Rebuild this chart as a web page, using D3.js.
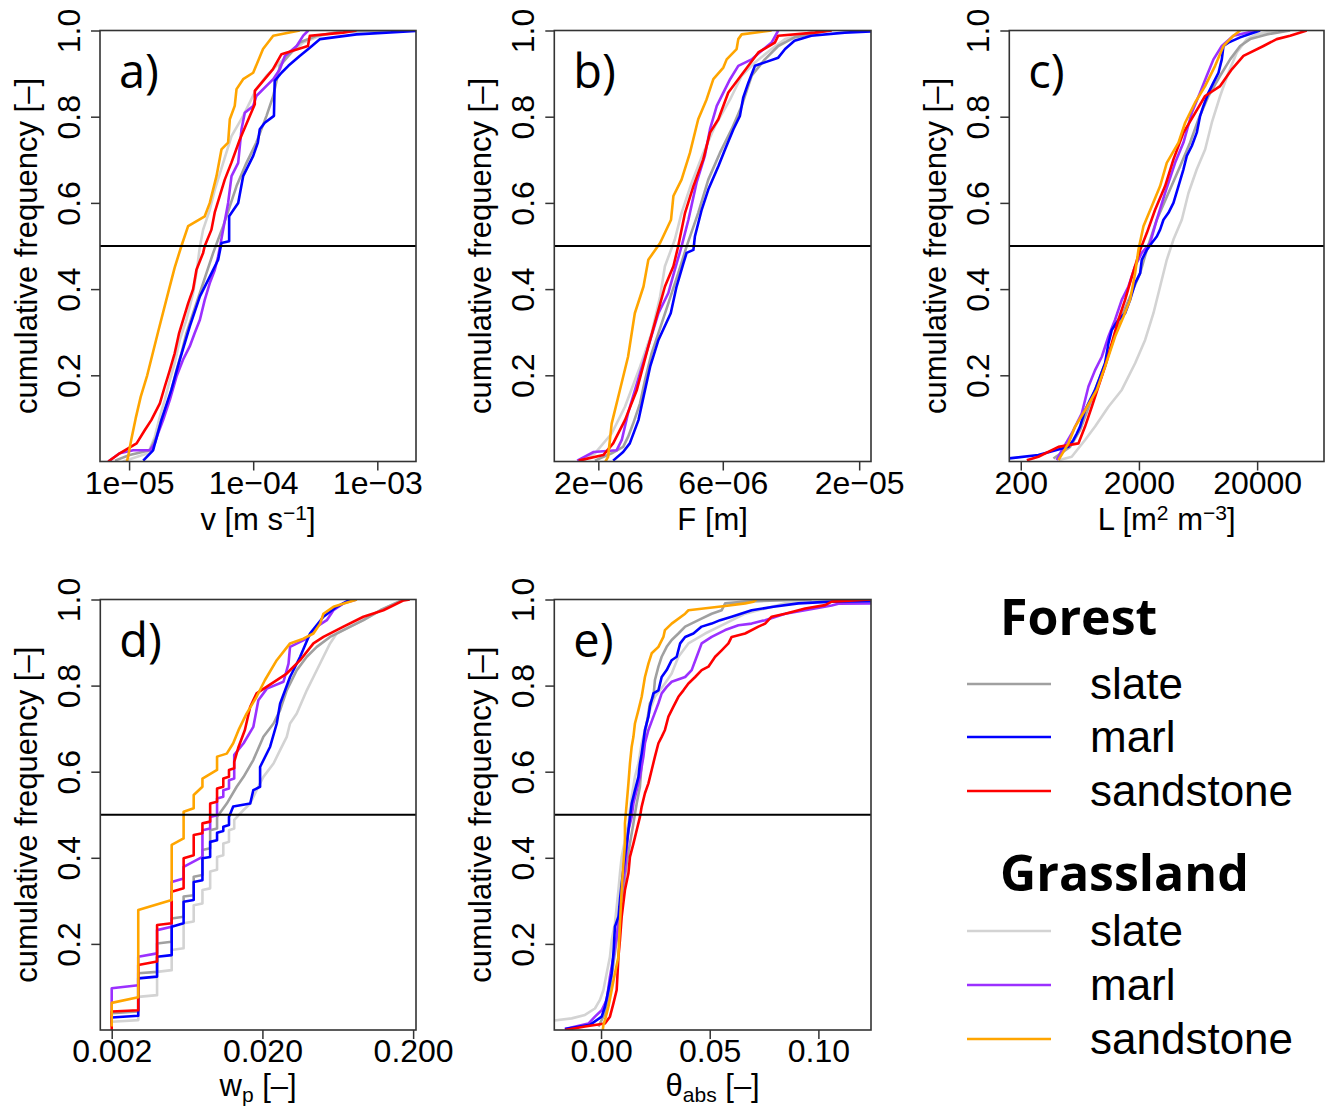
<!DOCTYPE html>
<html>
<head>
<meta charset="utf-8">
<script src="https://cdn.jsdelivr.net/npm/d3@7"></script>
<style>
  body { margin: 0; background: #fff; }
  svg { display: block; }
</style>
</head>
<body>
<svg id="chart" width="1326" height="1107"></svg>
<script>
// ---- legend / series names ----
const landUse = ["Forest", "Grassland"];
const geology = ["slate", "marl", "sandstone"];
const seriesKeys = ["FS", "FM", "FSa", "GS", "GM", "GSa"];
const seriesColors = { FS: "#a0a0a0", FM: "#0000ff", FSa: "#ff0000", GS: "#d3d3d3", GM: "#9b30ff", GSa: "#ffa500" };
const drawOrder = ["GS", "FS", "GM", "FM", "FSa", "GSa"];

// ---- y axis ----
const yTicks = [0.2, 0.4, 0.6, 0.8, 1.0];
const yTickLabels = ["0.2", "0.4", "0.6", "0.8", "1.0"];

// ---- a) velocity v [m s-1]; pairs of [value, cumulative frequency] ----
const vTicks = [1e-5, 1e-4, 1e-3];
const vTickLabels = ["1e\u221205", "1e\u221204", "1e\u221203"];
const vForestSlate = [[7.7e-6,0.002],[1.01e-5,0.015],[1.47e-5,0.026],[1.66e-5,0.057],[1.82e-5,0.095],[2.13e-5,0.15],[2.41e-5,0.212],[2.64e-5,0.251],[2.90e-5,0.298],[3.28e-5,0.344],[3.72e-5,0.391],[4.20e-5,0.437],[4.76e-5,0.484],[5.22e-5,0.515],[5.73e-5,0.546],[6.48e-5,0.592],[7.34e-5,0.639],[8.83e-5,0.693],[1.06e-4,0.74],[1.28e-4,0.802],[1.45e-4,0.848],[1.64e-4,0.918],[2.37e-4,0.972],[3.24e-4,0.988],[5.0e-4,0.997],[1.26e-3,1]];
const vForestMarl = [[1.30e-5,0.002],[1.56e-5,0.026],[1.82e-5,0.096],[2.19e-5,0.166],[2.56e-5,0.236],[3.08e-5,0.313],[3.72e-5,0.383],[4.47e-5,0.429],[5.22e-5,0.468],[5.55e-5,0.507],[6.4e-5,0.511],[6.4e-5,0.569],[7.57e-5,0.6],[8.30e-5,0.662],[1.0e-4,0.709],[1.09e-4,0.74],[1.13e-4,0.771],[1.24e-4,0.786],[1.47e-4,0.802],[1.49e-4,0.883],[1.69e-4,0.902],[1.92e-4,0.918],[2.37e-4,0.941],[2.86e-4,0.96],[3.46e-4,0.98],[6.8e-4,0.991],[2.05e-3,0.999]];
const vForestSand = [[6.8e-6,0],[8.4e-6,0.019],[1.15e-5,0.042],[1.34e-5,0.073],[1.51e-5,0.096],[1.77e-5,0.135],[1.94e-5,0.174],[2.13e-5,0.212],[2.33e-5,0.251],[2.53e-5,0.298],[2.99e-5,0.367],[3.28e-5,0.4],[3.49e-5,0.445],[3.95e-5,0.484],[4.07e-5,0.5],[4.61e-5,0.538],[4.9e-5,0.578],[5.9e-5,0.654],[6.69e-5,0.694],[7.8e-5,0.747],[1.03e-4,0.829],[1.03e-4,0.86],[1.44e-4,0.91],[1.69e-4,0.945],[2.76e-4,0.964],[2.86e-4,0.988],[5.3e-4,0.995],[6.8e-4,1]];
const vGrassSlate = [[8.9e-6,0],[1.42e-5,0.019],[1.61e-5,0.057],[1.77e-5,0.104],[1.94e-5,0.143],[2.13e-5,0.189],[2.33e-5,0.228],[2.56e-5,0.282],[2.90e-5,0.329],[3.28e-5,0.391],[3.49e-5,0.437],[3.72e-5,0.499],[3.95e-5,0.538],[4.47e-5,0.584],[4.91e-5,0.631],[5.73e-5,0.693],[6.69e-5,0.755],[8.30e-5,0.802],[1.06e-4,0.864],[1.28e-4,0.895],[1.64e-4,0.926],[2.53e-4,0.972],[3.46e-4,0.988],[5.0e-4,0.997],[7.7e-4,1]];
const vGrassMarl = [[6.8e-6,0],[8.4e-6,0.019],[1.08e-5,0.026],[1.47e-5,0.026],[1.61e-5,0.042],[1.71e-5,0.065],[1.88e-5,0.096],[2.13e-5,0.143],[2.41e-5,0.197],[2.72e-5,0.236],[3.08e-5,0.267],[3.38e-5,0.298],[3.72e-5,0.329],[4.07e-5,0.375],[4.47e-5,0.414],[4.91e-5,0.445],[5.22e-5,0.476],[5.73e-5,0.538],[6.28e-5,0.6],[6.69e-5,0.662],[7.57e-5,0.693],[8.05e-5,0.771],[8.56e-5,0.809],[1.0e-4,0.825],[1.06e-4,0.848],[1.45e-4,0.887],[1.64e-4,0.91],[1.80e-4,0.941],[2.24e-4,0.964],[2.53e-4,0.988],[2.78e-4,1]];
const vGrassSand = [[9.6e-6,0],[9.8e-6,0.01],[1.04e-5,0.05],[1.13e-5,0.1],[1.24e-5,0.15],[1.4e-5,0.2],[1.71e-5,0.3],[2.1e-5,0.4],[2.33e-5,0.45],[2.64e-5,0.5],[2.99e-5,0.546],[4.07e-5,0.569],[4.47e-5,0.6],[5.06e-5,0.662],[5.55e-5,0.724],[6.28e-5,0.74],[6.48e-5,0.794],[7.1e-5,0.825],[7.34e-5,0.864],[8.3e-5,0.887],[1.0e-4,0.902],[1.2e-4,0.957],[1.45e-4,0.988],[2.37e-4,1]];

// ---- b) F [m] ----
const fTicks = [2e-6, 6e-6, 2e-5];
const fTickLabels = ["2e\u221206", "6e\u221206", "2e\u221205"];
const fForestSlate = [[1.94e-6,0.002],[2.25e-6,0.019],[2.49e-6,0.034],[2.6e-6,0.057],[2.72e-6,0.088],[2.89e-6,0.135],[3.02e-6,0.189],[3.2e-6,0.251],[3.4e-6,0.298],[3.71e-6,0.367],[4.05e-6,0.437],[4.36e-6,0.499],[4.83e-6,0.577],[5.28e-6,0.654],[5.85e-6,0.716],[6.49e-6,0.771],[7.09e-6,0.825],[7.74e-6,0.895],[8.7e-6,0.933],[9.79e-6,0.964],[1.13e-5,0.984],[1.52e-5,1]];
const fForestMarl = [[2.28e-6,0.002],[2.49e-6,0.022],[2.64e-6,0.042],[2.85e-6,0.096],[2.98e-6,0.15],[3.16e-6,0.22],[3.4e-6,0.282],[3.79e-6,0.344],[3.99e-6,0.406],[4.24e-6,0.46],[4.36e-6,0.484],[4.63e-6,0.491],[4.69e-6,0.522],[4.98e-6,0.584],[5.28e-6,0.631],[5.77e-6,0.685],[6.12e-6,0.724],[6.59e-6,0.771],[6.98e-6,0.802],[7.19e-6,0.845],[7.52e-6,0.879],[7.97e-6,0.918],[8.7e-6,0.926],[9.79e-6,0.937],[1.04e-5,0.957],[1.13e-5,0.976],[1.31e-5,0.988],[1.76e-5,0.995],[2.22e-5,0.998]];
const fForestSand = [[1.68e-6,0.002],[2.09e-6,0.015],[2.28e-6,0.042],[2.53e-6,0.096],[2.81e-6,0.166],[3.11e-6,0.267],[3.4e-6,0.352],[3.6e-6,0.406],[3.88e-6,0.453],[4.05e-6,0.5],[4.3e-6,0.577],[4.63e-6,0.639],[5.05e-6,0.701],[5.36e-6,0.763],[5.77e-6,0.794],[6.3e-6,0.856],[6.88e-6,0.887],[7.52e-6,0.918],[8.21e-6,0.949],[9.5e-6,0.972],[9.79e-6,0.988],[1.35e-5,0.995],[1.57e-5,1]];
const fGrassSlate = [[1.73e-6,0],[1.94e-6,0.019],[2.25e-6,0.065],[2.53e-6,0.127],[2.89e-6,0.22],[3.2e-6,0.298],[3.45e-6,0.383],[3.6e-6,0.453],[3.93e-6,0.515],[4.17e-6,0.577],[4.56e-6,0.647],[5.05e-6,0.716],[5.6e-6,0.778],[6.4e-6,0.84],[7.09e-6,0.895],[7.97e-6,0.926],[9.23e-6,0.957],[1.04e-5,0.98],[1.39e-5,1]];
const fGrassMarl = [[1.66e-6,0.002],[1.92e-6,0.022],[2.35e-6,0.026],[2.46e-6,0.05],[2.6e-6,0.112],[2.89e-6,0.205],[3.11e-6,0.267],[3.4e-6,0.344],[3.71e-6,0.391],[3.93e-6,0.445],[4.17e-6,0.499],[4.43e-6,0.561],[4.76e-6,0.647],[5.12e-6,0.709],[5.36e-6,0.771],[5.69e-6,0.825],[6.03e-6,0.856],[6.4e-6,0.887],[6.88e-6,0.918],[7.74e-6,0.933],[8.45e-6,0.953],[9.23e-6,0.972],[9.79e-6,1]];
const fGrassSand = [[2.13e-6,0],[2.18e-6,0.011],[2.25e-6,0.088],[2.42e-6,0.166],[2.6e-6,0.243],[2.76e-6,0.344],[2.98e-6,0.406],[3.11e-6,0.468],[3.45e-6,0.507],[3.8e-6,0.561],[3.88e-6,0.616],[4.17e-6,0.654],[4.49e-6,0.716],[4.83e-6,0.794],[5.2e-6,0.84],[5.52e-6,0.887],[6.03e-6,0.914],[6.21e-6,0.933],[6.78e-6,0.957],[6.88e-6,0.98],[7.09e-6,0.991],[9.23e-6,1]];

// ---- c) L [m2 m-3] ----
const lTicks = [200, 2000, 20000];
const lTickLabels = ["200", "2000", "20000"];
const lForestSlate = [[378,0.007],[523,0.034],[635,0.073],[772,0.135],[938,0.197],[1140,0.259],[1386,0.329],[1683,0.383],[2047,0.437],[2331,0.491],[2832,0.561],[3555,0.623],[4460,0.685],[5421,0.74],[6380,0.794],[7750,0.848],[9730,0.895],[11820,0.933],[14360,0.964],[17460,0.98],[24150,0.991],[38030,1]];
const lForestMarl = [[150,0.003],[157,0.007],[282,0.015],[506,0.034],[558,0.05],[596,0.065],[635,0.081],[700,0.119],[772,0.143],[851,0.166],[938,0.197],[1034,0.228],[1104,0.274],[1178,0.305],[1341,0.329],[1527,0.344],[1683,0.375],[1857,0.414],[2047,0.437],[2113,0.468],[2331,0.491],[2568,0.507],[2832,0.522],[3021,0.538],[3225,0.561],[3555,0.577],[3918,0.6],[4320,0.639],[4761,0.678],[5081,0.709],[5600,0.732],[6171,0.763],[6590,0.802],[7030,0.825],[7750,0.856],[8540,0.879],[9420,0.902],[10050,0.933],[10380,0.964],[11430,0.972],[14360,0.984],[18620,0.995],[21200,1]];
const lForestSand = [[225,0.003],[282,0.011],[417,0.034],[615,0.042],[700,0.081],[798,0.127],[908,0.174],[1034,0.22],[1178,0.274],[1341,0.329],[1527,0.375],[1740,0.429],[2047,0.491],[2331,0.53],[2740,0.584],[3330,0.639],[3918,0.701],[4761,0.763],[5780,0.802],[7260,0.848],[9730,0.871],[12210,0.91],[15320,0.941],[22640,0.964],[29300,0.98],[38030,0.988],[52600,1]];
const lGrassSlate = [[417,0.003],[540,0.011],[700,0.05],[851,0.081],[1104,0.127],[1431,0.166],[1857,0.228],[2256,0.282],[2653,0.344],[3021,0.406],[3440,0.468],[3918,0.515],[4610,0.561],[5250,0.623],[6171,0.678],[7260,0.724],[8270,0.786],[9730,0.848],[11430,0.902],[13460,0.949],[16350,0.98],[19860,0.991],[29300,1]];
const lGrassMarl = [[403,0.003],[445,0.026],[540,0.065],[657,0.112],[748,0.174],[851,0.212],[970,0.243],[1104,0.29],[1257,0.329],[1431,0.375],[1630,0.406],[1857,0.453],[2113,0.484],[2487,0.507],[2832,0.561],[3330,0.623],[4045,0.693],[4761,0.74],[5600,0.809],[6590,0.856],[7500,0.895],[8540,0.933],[10050,0.964],[12600,0.988],[19860,1]];
const lGrassSand = [[417,0.003],[506,0.042],[577,0.081],[700,0.119],[879,0.166],[1034,0.22],[1257,0.29],[1479,0.336],[1683,0.375],[1857,0.437],[1981,0.491],[2184,0.546],[2568,0.592],[3021,0.639],[3440,0.693],[4320,0.74],[4918,0.786],[5975,0.833],[7260,0.871],[8820,0.918],[10380,0.964],[12600,0.988],[14360,1]];

// ---- d) wp [-] ----
const wTicks = [0.002, 0.02, 0.2];
const wTickLabels = ["0.002", "0.020", "0.200"];
const wForestSlate = [[0.002,0.015],[0.002,0.039],[0.003,0.043],[0.003,0.132],[0.004,0.135],[0.004,0.201],[0.005,0.205],[0.005,0.259],[0.006,0.263],[0.006,0.31],[0.007,0.313],[0.007,0.356],[0.008,0.36],[0.008,0.418],[0.009,0.422],[0.009,0.464],[0.010,0.468],[0.010,0.495],[0.0116,0.526],[0.0135,0.565],[0.015,0.588],[0.0174,0.627],[0.0203,0.681],[0.0237,0.712],[0.0262,0.743],[0.029,0.789],[0.0338,0.836],[0.0394,0.867],[0.0459,0.89],[0.0562,0.913],[0.069,0.929],[0.0936,0.952],[0.121,0.975],[0.173,1]];
const wForestMarl = [[0.002,0.015],[0.002,0.029],[0.003,0.033],[0.003,0.12],[0.004,0.124],[0.004,0.17],[0.005,0.174],[0.005,0.24],[0.006,0.248],[0.006,0.298],[0.007,0.302],[0.007,0.344],[0.008,0.348],[0.008,0.399],[0.009,0.402],[0.009,0.437],[0.010,0.441],[0.010,0.458],[0.011,0.462],[0.011,0.472],[0.012,0.476],[0.012,0.495],[0.0128,0.519],[0.0166,0.526],[0.0174,0.557],[0.0193,0.565],[0.0193,0.611],[0.0225,0.658],[0.0249,0.712],[0.0262,0.758],[0.0305,0.82],[0.0356,0.867],[0.0414,0.921],[0.0508,0.96],[0.0622,0.983],[0.0764,1]];
const wForestSand = [[0.002,0],[0.002,0.043],[0.003,0.046],[0.003,0.151],[0.004,0.159],[0.004,0.244],[0.005,0.248],[0.005,0.321],[0.006,0.329],[0.006,0.399],[0.007,0.406],[0.007,0.453],[0.008,0.457],[0.008,0.48],[0.009,0.484],[0.009,0.526],[0.010,0.53],[0.010,0.561],[0.011,0.565],[0.011,0.584],[0.012,0.588],[0.012,0.604],[0.013,0.608],[0.013,0.623],[0.0139,0.658],[0.0153,0.697],[0.0166,0.751],[0.0183,0.782],[0.0231,0.805],[0.029,0.828],[0.0356,0.859],[0.0436,0.898],[0.0508,0.913],[0.069,0.937],[0.0936,0.96],[0.127,0.975],[0.173,0.998],[0.19,1]];
const wGrassSlate = [[0.002,0.008],[0.002,0.019],[0.003,0.023],[0.003,0.077],[0.004,0.081],[0.004,0.135],[0.005,0.139],[0.005,0.186],[0.006,0.19],[0.006,0.248],[0.007,0.252],[0.007,0.29],[0.008,0.294],[0.008,0.325],[0.009,0.329],[0.009,0.368],[0.010,0.372],[0.010,0.402],[0.011,0.406],[0.011,0.433],[0.012,0.437],[0.012,0.464],[0.013,0.468],[0.013,0.488],[0.015,0.511],[0.0166,0.526],[0.0183,0.557],[0.0203,0.588],[0.0237,0.619],[0.0262,0.65],[0.029,0.681],[0.0305,0.712],[0.0338,0.735],[0.0394,0.789],[0.0436,0.82],[0.0508,0.867],[0.0562,0.898],[0.0622,0.921],[0.0764,0.937],[0.0936,0.952],[0.121,0.975],[0.173,1]];
const wGrassMarl = [[0.002,0.008],[0.002,0.097],[0.003,0.104],[0.003,0.17],[0.004,0.178],[0.004,0.232],[0.005,0.24],[0.005,0.344],[0.006,0.352],[0.006,0.379],[0.008,0.402],[0.008,0.464],[0.009,0.468],[0.009,0.495],[0.010,0.499],[0.010,0.538],[0.011,0.542],[0.011,0.557],[0.012,0.561],[0.012,0.58],[0.013,0.584],[0.013,0.639],[0.015,0.666],[0.0174,0.704],[0.0188,0.766],[0.0214,0.793],[0.0276,0.809],[0.0298,0.851],[0.0305,0.89],[0.0394,0.909],[0.0459,0.937],[0.0535,0.952],[0.0592,0.975],[0.069,0.991],[0.0846,1]];
const wGrassSand = [[0.002,0.008],[0.002,0.063],[0.003,0.076],[0.003,0.279],[0.005,0.302],[0.005,0.43],[0.006,0.445],[0.006,0.507],[0.007,0.515],[0.007,0.546],[0.008,0.565],[0.008,0.584],[0.010,0.604],[0.010,0.635],[0.0116,0.642],[0.0128,0.666],[0.0139,0.697],[0.0157,0.735],[0.0183,0.774],[0.0208,0.813],[0.0249,0.859],[0.0305,0.898],[0.0374,0.909],[0.0436,0.921],[0.0483,0.944],[0.0508,0.967],[0.0592,0.983],[0.0846,1]];

// ---- e) theta_abs [-] ----
const tTicks = [0, 0.05, 0.1];
const tTickLabels = ["0.00", "0.05", "0.10"];
const tForestSlate = [[-0.0012,0.008],[0.0018,0.039],[0.0041,0.093],[0.0057,0.155],[0.0072,0.209],[0.0087,0.279],[0.0103,0.325],[0.0118,0.387],[0.0133,0.433],[0.0149,0.48],[0.0164,0.526],[0.0179,0.565],[0.0187,0.619],[0.0195,0.658],[0.0202,0.689],[0.021,0.712],[0.0225,0.759],[0.0241,0.774],[0.0248,0.813],[0.0264,0.844],[0.0279,0.867],[0.0302,0.89],[0.0325,0.906],[0.0356,0.921],[0.0387,0.937],[0.0448,0.952],[0.0509,0.967],[0.0555,0.975],[0.0571,0.991],[0.0663,0.995],[0.0816,0.998],[0.0969,1]];
const tForestMarl = [[-0.0166,0.002],[-0.0051,0.012],[0.0003,0.031],[0.0018,0.054],[0.0034,0.093],[0.0049,0.132],[0.0057,0.178],[0.0064,0.24],[0.008,0.263],[0.0087,0.302],[0.0095,0.341],[0.011,0.402],[0.0118,0.433],[0.0126,0.464],[0.0133,0.495],[0.0141,0.526],[0.0156,0.557],[0.0172,0.588],[0.0179,0.619],[0.0187,0.642],[0.0202,0.697],[0.0218,0.728],[0.0225,0.751],[0.0241,0.782],[0.0264,0.789],[0.0279,0.82],[0.0302,0.836],[0.0325,0.859],[0.0348,0.867],[0.0364,0.898],[0.0387,0.913],[0.0425,0.921],[0.0463,0.937],[0.0509,0.944],[0.0548,0.952],[0.0601,0.96],[0.0693,0.975],[0.0793,0.983],[0.0908,0.991],[0.1061,0.995],[0.1242,0.996],[0.14,1]];
const tForestSand = [[-0.0166,0],[-0.0074,0.008],[0.0018,0.015],[0.0041,0.031],[0.0057,0.062],[0.0072,0.093],[0.008,0.17],[0.0087,0.209],[0.0095,0.263],[0.011,0.325],[0.0126,0.364],[0.0133,0.402],[0.0149,0.433],[0.0164,0.464],[0.0179,0.495],[0.0187,0.519],[0.0202,0.55],[0.0218,0.573],[0.0233,0.604],[0.0248,0.635],[0.0264,0.666],[0.0279,0.681],[0.0294,0.697],[0.031,0.728],[0.0333,0.751],[0.0356,0.774],[0.0379,0.789],[0.0402,0.805],[0.0433,0.82],[0.0463,0.836],[0.0494,0.844],[0.0525,0.867],[0.0555,0.882],[0.0586,0.898],[0.0601,0.913],[0.0663,0.921],[0.0724,0.937],[0.0755,0.944],[0.0785,0.96],[0.0847,0.967],[0.0939,0.979],[0.1031,0.987],[0.1061,0.995],[0.1242,1]];
const tGrassSlate = [[-0.03,0.012],[-0.0215,0.022],[-0.0135,0.027],[-0.0074,0.035],[-0.0028,0.05],[-0.0005,0.07],[0.0011,0.093],[0.0026,0.132],[0.0041,0.17],[0.0049,0.209],[0.0064,0.248],[0.0072,0.286],[0.008,0.325],[0.0087,0.364],[0.0095,0.402],[0.011,0.441],[0.0126,0.48],[0.0133,0.511],[0.0141,0.542],[0.0156,0.588],[0.0172,0.619],[0.0187,0.666],[0.0202,0.697],[0.0225,0.743],[0.0248,0.774],[0.0294,0.805],[0.0325,0.828],[0.0356,0.867],[0.0402,0.898],[0.0479,0.921],[0.0571,0.944],[0.0663,0.967],[0.0724,0.975],[0.0847,0.991],[0.0969,0.995],[0.1242,1]];
const tGrassMarl = [[-0.0166,0.002],[-0.0058,0.015],[-0.0028,0.031],[0.0003,0.046],[0.0026,0.07],[0.0041,0.124],[0.0057,0.17],[0.0072,0.217],[0.0087,0.279],[0.0095,0.325],[0.011,0.372],[0.0118,0.418],[0.0126,0.464],[0.0141,0.495],[0.0149,0.526],[0.0164,0.557],[0.0179,0.588],[0.0195,0.635],[0.0202,0.666],[0.0218,0.697],[0.0241,0.728],[0.0264,0.759],[0.0279,0.782],[0.0302,0.797],[0.0325,0.809],[0.0387,0.82],[0.0417,0.836],[0.044,0.867],[0.0463,0.898],[0.0509,0.913],[0.0571,0.929],[0.0632,0.94],[0.0693,0.944],[0.0755,0.952],[0.0847,0.967],[0.0939,0.975],[0.1061,0.986],[0.1092,0.99],[0.1242,0.991],[0.14,1]];
const tGrassSand = [[0.0008,0],[0.0011,0.012],[0.0018,0.023],[0.0034,0.054],[0.0049,0.093],[0.0064,0.132],[0.008,0.17],[0.0087,0.248],[0.0095,0.325],[0.0103,0.387],[0.011,0.433],[0.011,0.48],[0.0118,0.526],[0.0126,0.573],[0.0133,0.619],[0.0141,0.658],[0.0149,0.681],[0.0156,0.712],[0.0172,0.743],[0.0187,0.774],[0.0202,0.82],[0.0218,0.851],[0.0233,0.875],[0.0264,0.89],[0.0287,0.913],[0.0294,0.929],[0.0325,0.944],[0.0387,0.967],[0.0402,0.975],[0.0571,0.985],[0.0663,0.991],[0.0701,0.995],[0.0716,1]];

let svg = d3.select("#chart");
const tickFont = '"Liberation Sans", Arial, Helvetica, sans-serif';
const letterFont = '"Open Sans", "Noto Sans", sans-serif';

let yTop = d3.scaleLinear().domain([0, 1]).range([461.5, 30.5]);
let yBottom = d3.scaleLinear().domain([0, 1]).range([1030, 599.5]);

let panels = [
    { id: "a", x: d3.scaleLog().domain([5.83e-6, 2.05e-3]).range([100, 416]), y: yTop, labelOffset: 68,
      ticks: vTicks, tickLabels: vTickLabels, label: [["v [m s", 0], ["\u22121", -1], ["]", 0]],
      data: { FS: vForestSlate, FM: vForestMarl, FSa: vForestSand, GS: vGrassSlate, GM: vGrassMarl, GSa: vGrassSand } },
    { id: "b", x: d3.scaleLog().domain([1.356e-6, 2.22e-5]).range([554.3, 871]), y: yTop, labelOffset: 68,
      ticks: fTicks, tickLabels: fTickLabels, label: [["F [m]", 0]],
      data: { FS: fForestSlate, FM: fForestMarl, FSa: fForestSand, GS: fGrassSlate, GM: fGrassMarl, GSa: fGrassSand } },
    { id: "c", x: d3.scaleLog().domain([160, 73600]).range([1009.3, 1324]), y: yTop, labelOffset: 68,
      ticks: lTicks, tickLabels: lTickLabels, label: [["L [m", 0], ["2", -1], [" m", 0], ["\u22123", -1], ["]", 0]],
      data: { FS: lForestSlate, FM: lForestMarl, FSa: lForestSand, GS: lGrassSlate, GM: lGrassMarl, GSa: lGrassSand } },
    { id: "d", x: d3.scaleLog().domain([0.00168, 0.209]).range([100.3, 416]), y: yBottom, labelOffset: 66,
      ticks: wTicks, tickLabels: wTickLabels, label: [["w", 0], ["p", 1], [" [\u2013]", 0]],
      data: { FS: wForestSlate, FM: wForestMarl, FSa: wForestSand, GS: wGrassSlate, GM: wGrassMarl, GSa: wGrassSand } },
    { id: "e", x: d3.scaleLinear().domain([-0.0215, 0.1242]).range([554.3, 871]), y: yBottom, labelOffset: 66,
      ticks: tTicks, tickLabels: tTickLabels, label: [["\u03b8", 0], ["abs", 1], [" [\u2013]", 0]],
      data: { FS: tForestSlate, FM: tForestMarl, FSa: tForestSand, GS: tGrassSlate, GM: tGrassMarl, GSa: tGrassSand } }
];

function drawPanel(p) {
    let [x0, x1] = p.x.range();
    let [yb, yt] = p.y.range();
    let g = svg.append("g").attr("class", "panel-" + p.id);

    svg.append("clipPath").attr("id", "clip-" + p.id)
        .append("rect").attr("x", x0).attr("y", yt).attr("width", x1 - x0).attr("height", yb - yt);

    let line = d3.line().x(d => p.x(d[0])).y(d => p.y(d[1]));
    let curves = g.append("g").attr("clip-path", "url(#clip-" + p.id + ")");
    drawOrder.forEach(function (k) {
        curves.append("path")
            .datum(p.data[k])
            .attr("d", line)
            .attr("fill", "none")
            .attr("stroke", seriesColors[k])
            .attr("stroke-width", 2.6)
            .attr("stroke-linejoin", "round");
    });

    // median line
    g.append("line")
        .attr("x1", x0).attr("x2", x1)
        .attr("y1", p.y(0.5)).attr("y2", p.y(0.5))
        .attr("stroke", "#000").attr("stroke-width", 1.8);

    // box
    g.append("rect")
        .attr("x", x0).attr("y", yt).attr("width", x1 - x0).attr("height", yb - yt)
        .attr("fill", "none").attr("stroke", "#333").attr("stroke-width", 1.6);

    // x axis
    let xa = g.append("g").attr("transform", "translate(0," + yb + ")")
        .call(d3.axisBottom(p.x).tickValues(p.ticks).tickFormat((d, i) => p.tickLabels[i]).tickSize(9).tickSizeOuter(0));
    xa.select(".domain").remove();
    xa.selectAll("line").attr("stroke", "#333").attr("stroke-width", 1.5);
    xa.selectAll("text").attr("y", 32).attr("dy", null)
        .attr("fill", "#000").style("font-family", tickFont).style("font-size", "32px");

    // y axis
    let ya = g.append("g").attr("transform", "translate(" + x0 + ",0)")
        .call(d3.axisLeft(p.y).tickValues(yTicks).tickFormat((d, i) => yTickLabels[i]).tickSize(9).tickSizeOuter(0));
    ya.select(".domain").remove();
    ya.selectAll("line").attr("stroke", "#333").attr("stroke-width", 1.5);
    ya.selectAll("text").attr("x", null).attr("dy", null)
        .attr("transform", "translate(-20,0) rotate(-90)")
        .attr("text-anchor", "middle")
        .attr("fill", "#000").style("font-family", tickFont).style("font-size", "32px");

    // y label
    g.append("text")
        .attr("transform", "translate(" + (x0 - 63) + "," + p.y(0.5) + ") rotate(-90)")
        .attr("text-anchor", "middle")
        .style("font-family", tickFont).style("font-size", "31px")
        .text("cumulative frequency [\u2013]");

    // x label with sub/superscripts
    let xl = g.append("text")
        .attr("x", (x0 + x1) / 2).attr("y", yb + p.labelOffset)
        .attr("text-anchor", "middle")
        .style("font-family", tickFont).style("font-size", "31px");
    let shift = 0;
    p.label.forEach(function (part) {
        let t = xl.append("tspan").text(part[0]);
        let target = part[1] < 0 ? -10 : part[1] * 6;
        if (part[1] !== 0) t.style("font-size", "21px");
        if (target - shift !== 0) t.attr("dy", target - shift);
        shift = target;
    });

    // panel letter
    g.append("text")
        .attr("x", x0 + 19).attr("y", yt + 57)
        .style("font-family", letterFont).style("font-size", "47px")
        .text(p.id + ")");
}

panels.forEach(drawPanel);

// ---- legend ----
let legend = svg.append("g").attr("class", "legend");
let legendGroups = [
    { title: landUse[0], titleY: 635, rows: [["FS", 684], ["FM", 737], ["FSa", 791]] },
    { title: landUse[1], titleY: 891, rows: [["GS", 931], ["GM", 985], ["GSa", 1039]] }
];
legendGroups.forEach(function (grp) {
    legend.append("text")
        .attr("x", 1000).attr("y", grp.titleY)
        .style("font-family", letterFont).style("font-weight", "bold").style("font-size", "50px")
        .text(grp.title);
    grp.rows.forEach(function (r, i) {
        legend.append("line")
            .attr("x1", 967).attr("x2", 1051)
            .attr("y1", r[1]).attr("y2", r[1])
            .attr("stroke", seriesColors[r[0]]).attr("stroke-width", 2.6);
        legend.append("text")
            .attr("x", 1090).attr("y", r[1] + 15)
            .style("font-family", tickFont).style("font-size", "44px")
            .text(geology[i]);
    });
});
</script>
</body>
</html>
